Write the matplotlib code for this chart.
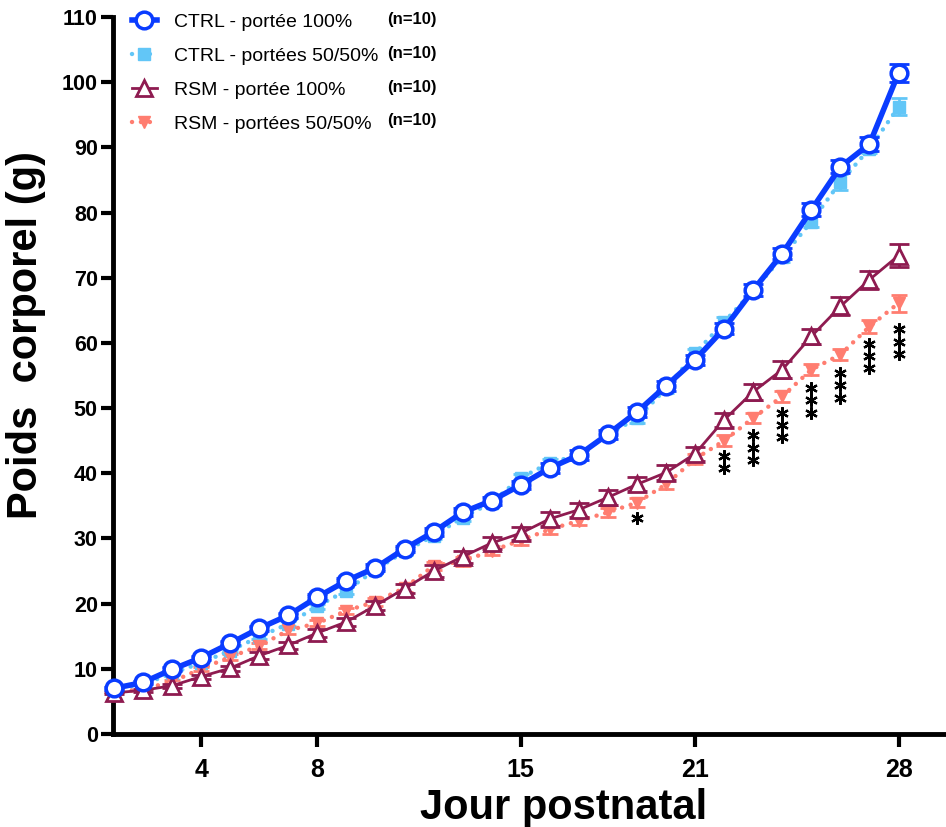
import matplotlib
matplotlib.use("Agg")
import matplotlib.pyplot as plt
from matplotlib.lines import Line2D

plt.rcParams['font.family'] = ['Liberation Sans', 'DejaVu Sans']

days = list(range(1, 29))

ctrl100 = [7.0, 7.9, 9.9, 11.7, 13.9, 16.2, 18.2, 21.0, 23.5, 25.5, 28.4, 31.0,
           34.0, 35.8, 38.2, 40.8, 42.8, 46.0, 49.4, 53.4, 57.4, 62.2, 68.1, 73.7,
           80.4, 87.0, 90.5, 101.4]
ctrl100_err = [0.2, 0.2, 0.3, 0.3, 0.3, 0.4, 0.4, 0.4, 0.5, 0.5, 0.5, 0.6,
               0.6, 0.6, 0.6, 0.7, 0.7, 0.7, 0.7, 0.8, 0.8, 0.8, 0.9, 0.9,
               1.0, 1.0, 1.1, 1.4]

ctrl50 = [6.8, 7.6, 9.3, 10.9, 12.8, 14.9, 16.9, 19.6, 22.0, 25.2, 28.0, 30.4,
          33.2, 35.5, 39.3, 41.6, 42.8, 46.0, 48.4, 53.0, 58.4, 63.2, 68.0, 73.2,
          78.6, 84.7, 89.8, 96.2]
ctrl50_err = [0.2, 0.2, 0.3, 0.3, 0.3, 0.4, 0.4, 0.4, 0.5, 0.5, 0.5, 0.5,
              0.6, 0.6, 0.6, 0.6, 0.6, 0.7, 0.7, 0.7, 0.7, 0.8, 0.8, 0.8,
              0.8, 1.2, 0.7, 1.3]

rsm100 = [6.3, 6.7, 7.4, 8.8, 10.1, 12.0, 13.6, 15.5, 17.2, 19.7, 22.3, 25.0,
          27.2, 29.3, 30.8, 33.0, 34.4, 36.3, 38.3, 40.1, 43.0, 48.2, 52.5, 55.9,
          61.0, 65.6, 69.7, 73.4]
rsm100_err = [0.2, 0.2, 0.3, 0.3, 0.4, 0.5, 0.5, 0.6, 0.6, 0.7, 0.7, 0.9,
              0.9, 0.9, 1.0, 1.1, 1.1, 1.1, 1.1, 1.1, 1.1, 1.1, 1.2, 1.3,
              1.1, 1.4, 1.4, 1.7]

rsm50 = [6.3, 6.9, 8.0, 10.0, 11.8, 13.5, 15.9, 17.0, 18.9, 20.3, 22.4, 25.8,
         26.5, 28.1, 29.7, 31.4, 32.7, 34.0, 35.5, 38.3, 42.2, 45.0, 48.5, 51.8,
         55.9, 58.2, 62.5, 66.1]
rsm50_err = [0.2, 0.2, 0.3, 0.3, 0.4, 0.4, 0.5, 0.5, 0.5, 0.6, 0.6, 0.6,
             0.7, 0.7, 0.7, 0.7, 0.7, 0.7, 0.7, 0.7, 0.8, 0.8, 0.8, 0.8,
             0.8, 0.8, 1.0, 1.3]

labels = ["CTRL - portée 100%", "CTRL - portées 50/50%",
          "RSM - portée 100%", "RSM - portées 50/50%"]
n_labels = ["(n=10)", "(n=10)", "(n=10)", "(n=10)"]

star_days = [19, 22, 23, 24, 25, 26, 27, 28]
star_counts = [1, 2, 3, 3, 3, 3, 3, 3]
star_centers = [33.2, 41.7, 43.9, 47.4, 51.2, 53.5, 58.0, 60.2]

xticks = [4, 8, 15, 21, 28]
yticks = list(range(0, 111, 10))

c_blue = '#0A3CFF'
c_lblue = '#62C6F7'
c_mag = '#8E1B50'
c_sal = '#FF7D70'

dot = (0, (0.01, 2.0))

styles = [
    dict(color=c_blue, ls='-', lw=4, marker='o', ms=12, mfc='white', mec=c_blue, mew=2.5),
    dict(color=c_lblue, ls=dot, lw=3.2, marker='s', ms=8, mfc=c_lblue, mec=c_lblue, mew=1),
    dict(color=c_mag, ls='-', lw=2, marker='^', ms=11, mfc='white', mec=c_mag, mew=2),
    dict(color=c_sal, ls=dot, lw=3.2, marker='v', ms=9, mfc=c_sal, mec=c_sal, mew=1),
]
series = [ctrl100, ctrl50, rsm100, rsm50]
errs = [ctrl100_err, ctrl50_err, rsm100_err, rsm50_err]
zorders = [5, 3, 4, 3]
caps = [7, 6, 7, 6]

fig = plt.figure(figsize=(9.46, 8.27), dpi=100)
ax = fig.add_axes([0.1195, 0.1125, 0.8795, 0.867])

for idx in [1, 3, 2, 0]:
    st = styles[idx]
    ax.errorbar(days, series[idx], yerr=errs[idx], fmt='none', ecolor=st['color'],
                elinewidth=2, capsize=caps[idx], capthick=2, clip_on=False,
                zorder=zorders[idx])
    ax.plot(days, series[idx], clip_on=False, zorder=zorders[idx] + 0.5,
            dash_capstyle='round', solid_capstyle='round', **st)

# significance stars
star_step = 1.9
for d, n, c in zip(star_days, star_counts, star_centers):
    ys = [c + (n - 1) / 2 * star_step - i * star_step for i in range(n)]
    ax.plot([d] * n, ys, ls='none', marker=(6, 2, 0), ms=9, mew=1.6,
            color='black', zorder=6)

ax.set_xlim(0.97, 29.6)
ax.set_ylim(0, 110)
ax.set_xticks(xticks)
ax.set_yticks(yticks)
ax.set_xticklabels([str(t) for t in xticks], fontsize=18, fontweight='bold')
ax.set_yticklabels([str(t) for t in yticks], fontsize=15.5, fontweight='bold')
ax.tick_params(axis='both', width=3, length=9, direction='out', color='black')
ax.tick_params(axis='x', pad=8)
ax.tick_params(axis='y', pad=2)
for s in ['top', 'right']:
    ax.spines[s].set_visible(False)
for s in ['left', 'bottom']:
    ax.spines[s].set_linewidth(3.5)

ax.set_xlabel("Jour postnatal", fontsize=30, fontweight='bold')
ax.set_ylabel("Poids  corporel (g)", fontsize=30, fontweight='bold')
ax.xaxis.set_label_coords(0.541, -0.075)
ax.yaxis.set_label_coords(-0.081, 0.556)

handles = [Line2D([], [], dash_capstyle='round', **st) for st in styles]
leg = ax.legend(handles, labels,
                loc='upper left', bbox_to_anchor=(0.006, 1.024), frameon=False,
                fontsize=14, labelspacing=0.84, handlelength=1.3,
                handletextpad=0.9, borderaxespad=0.3)

fig.canvas.draw()
renderer = fig.canvas.get_renderer()
for t, nl in zip(leg.get_texts(), n_labels):
    bb = t.get_window_extent(renderer)
    yc = (bb.y0 + bb.y1) / 2 / fig.bbox.height
    fig.text(387 / 946, yc + 0.004, nl, fontsize=12, fontweight='bold',
             va='center', ha='left')

fig.savefig("out.png", dpi=100)
